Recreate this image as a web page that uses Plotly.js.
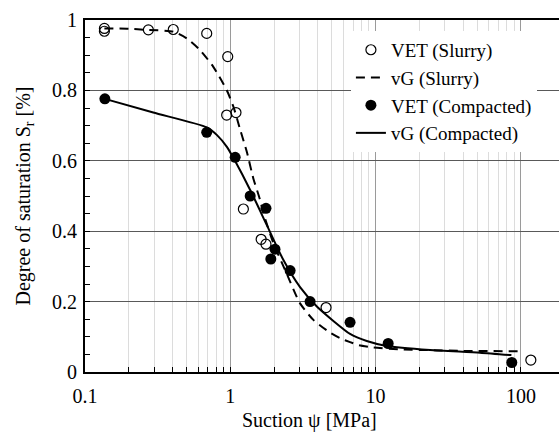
<!DOCTYPE html>
<html>
<head>
<meta charset="utf-8">
<script src="https://cdn.plot.ly/plotly-3.0.1.min.js"></script>
<style>html,body{margin:0;padding:0;background:#fff;}#chart{width:559px;height:432px;}</style>
</head>
<body>
<div id="chart"></div>
<script>
// VET measurements (Slurry)
const slurryX = [0.136, 0.136, 0.273, 0.405, 0.688, 0.96, 0.944, 1.094, 1.23, 1.63, 1.76, 4.56, 117];
const slurryY = [0.976, 0.968, 0.972, 0.973, 0.962, 0.896, 0.730, 0.737, 0.463, 0.377, 0.363, 0.183, 0.034];
// vG fit (Slurry)
const vgSlurryX = [0.136, 0.2, 0.265, 0.405, 0.501, 0.618, 0.764, 0.944, 1.05, 1.17, 1.30, 1.44, 1.60, 1.69, 1.98, 2.44, 3.02, 3.73, 4.85, 5.7, 6.67, 7.7, 9.64, 15, 24, 40, 100];
const vgSlurryY = [0.976, 0.975, 0.972, 0.967, 0.948, 0.915, 0.867, 0.801, 0.754, 0.688, 0.625, 0.550, 0.490, 0.451, 0.366, 0.280, 0.195, 0.148, 0.112, 0.096, 0.085, 0.076, 0.070, 0.064, 0.062, 0.060, 0.059];
// VET measurements (Compacted)
const compX = [0.137, 0.688, 1.08, 1.37, 1.76, 2.03, 1.9, 2.58, 3.54, 6.67, 12.2, 86.5];
const compY = [0.776, 0.681, 0.610, 0.500, 0.465, 0.349, 0.321, 0.288, 0.200, 0.141, 0.081, 0.027];
// vG fit (Compacted)
const vgCompX = [0.137, 0.295, 0.69, 0.81, 0.95, 1.07, 1.37, 1.78, 2.32, 3.02, 3.94, 5.12, 6.67, 8.69, 11.9, 23.7, 52.2, 86];
const vgCompY = [0.776, 0.737, 0.695, 0.673, 0.639, 0.602, 0.517, 0.418, 0.318, 0.241, 0.186, 0.145, 0.108, 0.088, 0.074, 0.0625, 0.055, 0.048];
// axis ticks
const xTickVals = [0.1, 1, 10, 100];
const xTickText = ['0.1', '1', '10', '100'];
const yTickVals = [0, 0.2, 0.4, 0.6, 0.8, 1];
const yTickText = ['0', '0.2', '0.4', '0.6', '0.8', '1'];

const FONT = '"Liberation Serif", "Times New Roman", serif';

const traces = [
  {x: slurryX, y: slurryY, name: 'VET (Slurry)', mode: 'markers', type: 'scatter',
   marker: {symbol: 'circle-open', size: 10, color: '#000', line: {width: 1.2, color: '#000'}}},
  {x: vgSlurryX, y: vgSlurryY, name: 'vG (Slurry)', mode: 'lines', type: 'scatter',
   line: {color: '#000', width: 2, dash: '9px,6px', shape: 'spline', smoothing: 0.6}},
  {x: compX, y: compY, name: 'VET (Compacted)', mode: 'markers', type: 'scatter',
   marker: {symbol: 'circle', size: 11, color: '#000'}},
  {x: vgCompX, y: vgCompY, name: 'vG (Compacted)', mode: 'lines', type: 'scatter',
   line: {color: '#000', width: 2, shape: 'spline', smoothing: 0.6}}
];

const layout = {
  width: 559, height: 432,
  margin: {l: 85, r: 0, t: 20, b: 60},
  paper_bgcolor: '#fff', plot_bgcolor: '#fff',
  font: {family: FONT, size: 20, color: '#000'},
  showlegend: true,
  legend: {x: 0.561, y: 0.969, xanchor: 'left', yanchor: 'top', bgcolor: '#fff',
           font: {family: FONT, size: 19, color: '#000'}, itemwidth: 30, tracegroupgap: 0},
  xaxis: {
    type: 'log', range: [-1, 2.262],
    tickvals: xTickVals, ticktext: xTickText,
    showgrid: true, gridcolor: '#9a9a9a', gridwidth: 1,
    showline: true, linecolor: '#000', linewidth: 2, mirror: true,
    ticks: 'inside', ticklen: 5, tickcolor: '#000', ticklabelstandoff: 5,
    minor: {dtick: 'D1', showgrid: true, gridcolor: '#dcdcdc', gridwidth: 1, ticks: 'inside', ticklen: 5, tickcolor: '#000'},
    zeroline: false, tickfont: {family: FONT, size: 20}
  },
  yaxis: {
    range: [0, 1], tickvals: yTickVals, ticktext: yTickText,
    showgrid: true, gridcolor: '#595959', gridwidth: 1,
    showline: true, linecolor: '#000', linewidth: 2,
    ticks: 'inside', ticklen: 5, tickcolor: '#000', ticklabelstandoff: 2,
    minor: {dtick: 0.05, ticks: 'inside', ticklen: 5, tickcolor: '#000', showgrid: false},
    zeroline: false, tickfont: {family: FONT, size: 20},
    title: {text: 'Degree of saturation S<sub>r</sub> [%]', font: {family: FONT, size: 20}, standoff: 16}
  },
  annotations: [{
    text: 'Suction ψ [MPa]', xref: 'paper', yref: 'paper', x: 0.4726, y: 0,
    yshift: -48, xanchor: 'center', yanchor: 'middle', showarrow: false,
    font: {family: FONT, size: 20, color: '#000'}
  }]
};

Plotly.newPlot('chart', traces, layout, {staticPlot: true, displayModeBar: false});
</script>
</body>
</html>
